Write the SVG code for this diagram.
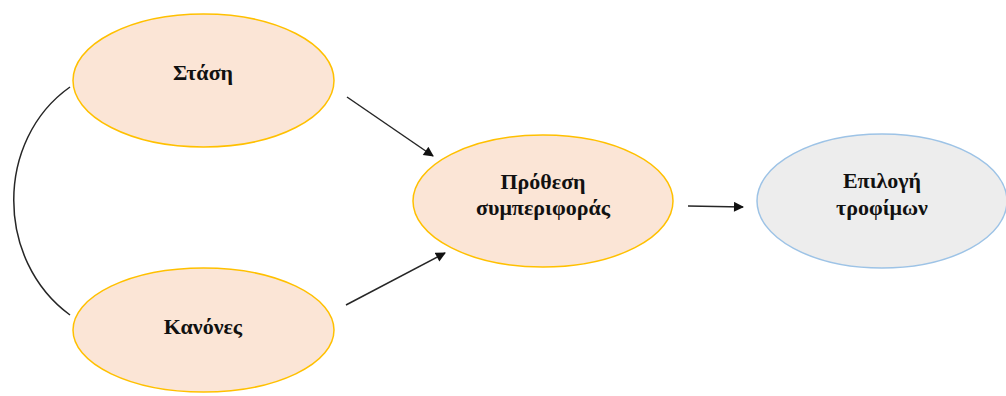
<svg xmlns="http://www.w3.org/2000/svg" width="1006" height="396" viewBox="0 0 1006 396">
<style>
.peach{fill:#fbe5d6;stroke:#ffc000;stroke-width:1.5}
.grey{fill:#ededed;stroke:#9dc3e6;stroke-width:1.5}
.lbl{font-family:"Liberation Serif","Times New Roman",serif;font-weight:bold;font-size:22px;fill:#111;text-anchor:middle}
.edge{fill:none;stroke:#262626;stroke-width:1.5}
</style>
<defs>
<marker id="ah" viewBox="0 0 10 10" refX="9" refY="5" markerWidth="11" markerHeight="10" markerUnits="userSpaceOnUse" orient="auto">
<path d="M0,0 L10,5 L0,10 Z" fill="#111"/>
</marker>
</defs>
<rect width="1006" height="396" fill="#fff"/>
<g id="connectors">
<path class="edge" d="M70,87 C-5,140 -5,260 70,315"/>
<line class="edge" x1="347" y1="97" x2="433" y2="156" marker-end="url(#ah)"/>
<line class="edge" x1="346" y1="305" x2="445" y2="253" marker-end="url(#ah)"/>
<line class="edge" x1="688" y1="206" x2="743" y2="207" marker-end="url(#ah)"/>
</g>
<g id="stasi">
<ellipse class="peach" cx="203.5" cy="80.5" rx="130.5" ry="66.5"/>
<text class="lbl" x="203" y="80">Στάση</text>
</g>
<g id="kanones">
<ellipse class="peach" cx="203.5" cy="330" rx="130.5" ry="62"/>
<text class="lbl" x="203" y="334">Κανόνες</text>
</g>
<g id="prothesi">
<ellipse class="peach" cx="543" cy="201" rx="130" ry="66"/>
<text class="lbl" x="543" y="189">Πρόθεση</text>
<text class="lbl" x="543" y="215">συμπεριφοράς</text>
</g>
<g id="epilogi">
<ellipse class="grey" cx="882" cy="201" rx="125" ry="67"/>
<text class="lbl" x="882" y="188">Επιλογή</text>
<text class="lbl" x="882" y="215">τροφίμων</text>
</g>
</svg>
